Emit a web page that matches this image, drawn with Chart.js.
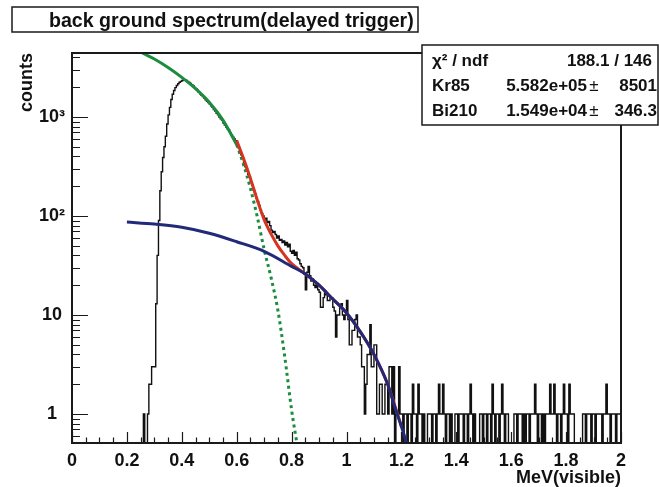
<!DOCTYPE html>
<html>
<head>
<meta charset="utf-8">
<script src="https://cdn.jsdelivr.net/npm/chart.js@4.4.0/dist/chart.umd.min.js"></script>
<style>
  html, body { margin: 0; padding: 0; background: #fff; }
  #wrap { width: 659px; height: 487px; }
</style>
</head>
<body>
<div id="wrap"><canvas id="spectrum" width="659" height="487"></canvas></div>
<script>
/* -----------data--------------------------------- */
// histogram: 0.005 MeV bins, first bin starts at 0.25 MeV
const histStart = 0.25;
const binWidth = 0.005;
const counts = [
  0, 0, 0, 1, 0, 0, 1, 2, 2, 3,
  3, 3, 13, 40, 90, 180, 280, 390, 500, 640,
  850, 1050, 1250, 1500, 1700, 1850, 1980, 2080, 2170, 2240,
  2290, 2340, 2370, 2380, 2340, 2290, 2230, 2180, 2120, 2060,
  1990, 1930, 1860, 1790, 1720, 1660, 1610, 1550, 1490, 1440,
  1400, 1350, 1300, 1250, 1190, 1150, 1090, 1050, 1000, 960,
  925, 870, 830, 790, 760, 735, 690, 655, 625, 600,
  575, 530, 490, 445, 415, 385, 345, 315, 290, 262,
  248, 222, 205, 182, 168, 152, 140, 128, 115, 106,
  100, 92, 95, 86, 88, 80, 72, 68, 70, 65,
  60, 63, 57, 58, 54, 56, 51, 54, 49, 52,
  44, 42, 45, 40, 43, 37, 36, 33, 31, 30,
  26, 18, 27, 31, 25, 22, 23, 20, 19, 21,
  18, 17, 12, 12, 15, 17, 16, 14, 14, 15,
  15, 12, 11, 6, 10, 10, 12, 13, 10, 9,
  10, 14, 9, 5, 5, 7, 7, 9, 10, 6,
  6, 5, 3, 3, 1, 2, 4, 4, 8, 3,
  3, 5, 5, 1, 1, 2, 2, 1, 1, 2,
  2, 1, 3, 3, 1, 3, 0, 1, 1, 3,
  1, 1, 0, 1, 1, 0, 1, 1, 0, 2,
  1, 1, 0, 2, 1, 1, 0, 1, 0, 0,
  1, 1, 1, 0, 1, 1, 0, 1, 2, 1,
  1, 2, 1, 0, 1, 1, 0, 1, 0, 0,
  1, 1, 0, 1, 1, 1, 0, 1, 1, 0,
  1, 2, 1, 0, 1, 0, 0, 0, 1, 1,
  0, 1, 1, 0, 1, 1, 0, 2, 1, 0,
  1, 1, 0, 1, 2, 1, 0, 1, 1, 0,
  0, 0, 0, 1, 1, 0, 1, 1, 1, 0,
  1, 0, 1, 1, 0, 1, 1, 1, 2, 1,
  0, 1, 1, 0, 1, 0, 1, 1, 1, 2,
  1, 1, 2, 1, 0, 1, 1, 0, 1, 2,
  1, 1, 0, 2, 1, 1, 1, 0, 0, 0,
  0, 0, 0, 1, 1, 0, 1, 1, 1, 0,
  1, 1, 0, 1, 1, 1, 1, 0, 1, 1,
  2, 1, 1, 0, 1, 1, 1, 0, 1, 1
];

// Kr85 component (solid inside the fit range, dotted beyond)
const krE = [0.20, 0.25, 0.30, 0.35, 0.40, 0.45, 0.50, 0.55, 0.60];
const krY = [5250, 4520, 3850, 3160, 2510, 1930, 1410, 930, 525];
const krTailE = [0.60, 0.625, 0.65, 0.675, 0.70, 0.725, 0.75, 0.775, 0.80, 0.825, 0.85];
const krTailY = [525, 330, 190, 98, 46, 24, 11.2, 3.8, 1.1, 0.4, 0.12];

// total fit
const totalE = [0.60, 0.625, 0.65, 0.675, 0.70, 0.725, 0.75, 0.775, 0.80, 0.85, 0.90, 0.95, 1.00, 1.05, 1.10, 1.15, 1.20];
const totalY = [580, 380, 240, 145, 92, 66, 50, 40, 33, 26, 20, 14.5, 10.5, 6.8, 4.0, 2.0, 0.75];

// Bi210 component
const biE = [0.20, 0.30, 0.40, 0.50, 0.60, 0.70, 0.80, 0.85, 0.90, 0.95, 1.00, 1.05, 1.10, 1.15, 1.175, 1.20, 1.225, 1.25];
const biY = [87, 83, 77, 67, 55, 44, 31, 26, 20, 14.5, 10.5, 6.8, 4.0, 2.0, 1.2, 0.75, 0.45, 0.25];

const xTickValues = [0, 0.2, 0.4, 0.6, 0.8, 1, 1.2, 1.4, 1.6, 1.8, 2];
const xTickLabels = ['0', '0.2', '0.4', '0.6', '0.8', '1', '1.2', '1.4', '1.6', '1.8', '2'];
const yTickValues = [1, 10, 100, 1000];
const yTickLabels = ['1', '10', '10²', '10³'];

const statRows = [
  ['χ² / ndf', '188.1 / 146', ''],
  ['Kr85', '5.582e+05', '8501'],
  ['Bi210', '1.549e+04', '346.3']
];

/* -----------helpers-------------- */
const FONT = "'Liberation Sans', Arial, Helvetica, sans-serif";
const emptyLevel = 0.3; // empty bins fall below the axis, like ROOT draws them

const pts = (xs, ys) => xs.map((x, i) => ({ x: x, y: ys[i] }));

let histPoints = counts.map((c, i) => ({
  x: +(histStart + i * binWidth).toFixed(4),
  y: c > 0 ? c : emptyLevel
}));
histPoints.push({ x: +(histStart + counts.length * binWidth).toFixed(4), y: histPoints[histPoints.length - 1].y });

/* -----------frame, ticks, boxes-------------- */
const rootStyle = {
  id: 'rootStyle',
  afterDatasetsDraw(chart) {
    const { ctx, chartArea: a, scales: { x, y } } = chart;
    ctx.save();
    ctx.strokeStyle = '#1a1a1a';
    ctx.lineWidth = 1.2;
    ctx.beginPath();
    for (let i = 0; i <= 40; i++) {
      const px = Math.round(x.getPixelForValue(i * 0.05)) + 0.5;
      const len = i % 4 === 0 ? 11 : 5.5;
      ctx.moveTo(px, a.bottom);
      ctx.lineTo(px, a.bottom - len);
    }
    for (let k = -1; k <= 3; k++) {
      for (let m = 1; m <= 9; m++) {
        const v = m * Math.pow(10, k);
        if (v < y.min || v > y.max) continue;
        const py = Math.round(y.getPixelForValue(v)) + 0.5;
        const len = m === 1 ? 16 : 8;
        ctx.moveTo(a.left, py);
        ctx.lineTo(a.left + len, py);
      }
    }
    ctx.stroke();
    ctx.lineWidth = 2;
    ctx.strokeRect(a.left, a.top, a.right - a.left, a.bottom - a.top);
    ctx.restore();
  },
  afterDraw(chart) {
    const ctx = chart.ctx;
    ctx.save();
    // title box
    ctx.fillStyle = '#fff';
    ctx.fillRect(12, 7, 406, 25);
    ctx.strokeStyle = '#1a1a1a';
    ctx.lineWidth = 1.5;
    ctx.strokeRect(12, 7, 406, 25);
    ctx.fillStyle = '#111';
    ctx.font = 'bold 19.6px ' + FONT;
    ctx.textBaseline = 'alphabetic';
    ctx.textAlign = 'left';
    ctx.fillText('back ground spectrum(delayed trigger)', 49, 27);

    // stats box
    ctx.fillStyle = '#fff';
    ctx.fillRect(422, 45, 236, 80);
    ctx.strokeRect(422, 45, 236, 80);
    ctx.fillStyle = '#111';
    const base = [66, 91, 116];
    statRows.forEach((r, i) => {
      ctx.font = 'bold 17px ' + FONT;
      ctx.textAlign = 'left';
      ctx.fillText(r[0], 432, base[i]);
      ctx.textAlign = 'right';
      if (r[2] === '') {
        ctx.fillText(r[1], 652, base[i]);
      } else {
        ctx.fillText(r[1], 587, base[i]);
        ctx.fillText(r[2], 657, base[i]);
        ctx.font = '17px ' + FONT;
        ctx.textAlign = 'center';
        ctx.fillText('±', 594, base[i]);
      }
    });
    ctx.restore();
  }
};

/* -----------chart-------------- */
const ctx = document.getElementById('spectrum').getContext('2d');

const spectrum = new Chart(ctx, {
  type: 'line',
  data: {
    datasets: [
      { label: 'Bi210', data: pts(biE, biY), borderColor: 'rgb(32, 42, 120)', borderWidth: 3, cubicInterpolationMode: 'monotone', clip: 0 },
      { label: 'total', data: pts(totalE, totalY), borderColor: 'rgb(214, 52, 32)', borderWidth: 3, cubicInterpolationMode: 'monotone', clip: 0 },
      { label: 'Kr85', data: pts(krE, krY), borderColor: 'rgb(28, 140, 62)', borderWidth: 3, cubicInterpolationMode: 'monotone', clip: 0 },
      { label: 'Kr85 tail', data: pts(krTailE, krTailY), borderColor: 'rgb(28, 140, 62)', borderWidth: 3, borderDash: [3, 3.5], borderCapStyle: 'butt', cubicInterpolationMode: 'monotone', clip: 0 },
      { label: 'counts', data: histPoints, borderColor: '#111', borderWidth: 1.4, stepped: 'after', clip: 0 }
    ]
  },
  options: {
    responsive: false,
    animation: false,
    elements: { point: { radius: 0 } },
    layout: { padding: { top: 53, right: 38, bottom: 0, left: 0 } },
    plugins: { legend: { display: false }, tooltip: { enabled: false } },
    scales: {
      x: {
        type: 'linear',
        min: 0,
        max: 2,
        grid: { display: false, drawTicks: false },
        border: { display: false },
        afterBuildTicks: s => { s.ticks = xTickValues.map(v => ({ value: v })); },
        afterFit: s => { s.height = 44; },
        ticks: {
          padding: 7,
          maxRotation: 0,
          autoSkip: false,
          color: '#111',
          font: { family: FONT, size: 18, weight: 'bold' },
          callback: (v, i) => xTickLabels[i]
        },
        title: {
          display: true,
          text: 'MeV(visible)',
          align: 'end',
          color: '#111',
          padding: { top: 0, bottom: 0 },
          font: { family: FONT, size: 18, weight: 'bold', lineHeight: 1 }
        }
      },
      y: {
        type: 'logarithmic',
        min: 0.51,
        max: 4430,
        grid: { display: false, drawTicks: false },
        border: { display: false },
        afterBuildTicks: s => { s.ticks = yTickValues.map(v => ({ value: v, major: true })); },
        afterFit: s => { s.width = 72; },
        ticks: {
          padding: 7,
          crossAlign: 'center',
          autoSkip: false,
          color: '#111',
          font: { family: FONT, size: 18, weight: 'bold' },
          callback: (v, i) => yTickLabels[i]
        },
        title: {
          display: true,
          text: 'counts',
          align: 'end',
          color: '#111',
          padding: { top: 18, bottom: 0 },
          font: { family: FONT, size: 18, weight: 'bold', lineHeight: 1 }
        }
      }
    }
  },
  plugins: [rootStyle]
});
</script>
</body>
</html>
